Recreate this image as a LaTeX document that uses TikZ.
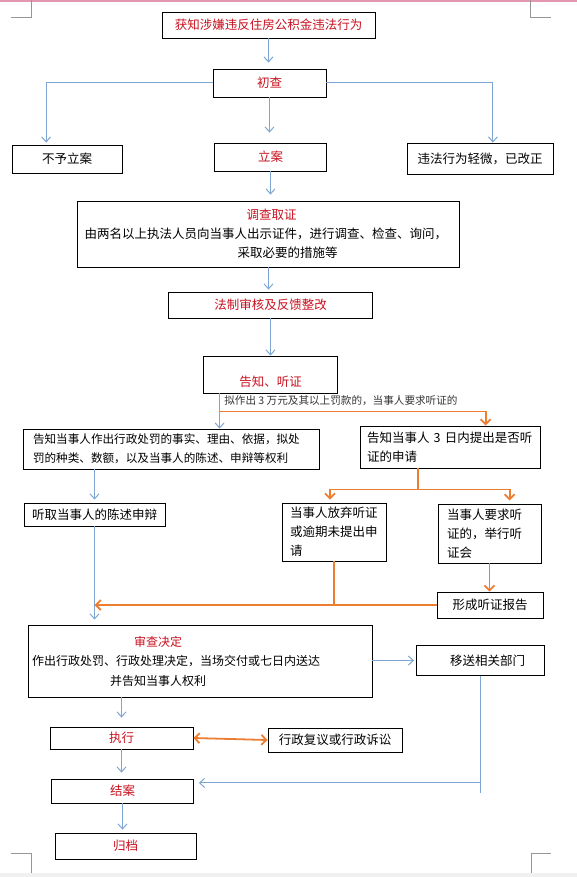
\documentclass[tikz,border=0pt]{standalone}
\usepackage{fontspec}
\setmainfont{Noto Sans CJK SC}
\usetikzlibrary{arrows.meta}
\definecolor{titlered}{RGB}{200,16,30}
\definecolor{flowblue}{RGB}{126,166,208}
\definecolor{hearorange}{RGB}{237,125,49}
\definecolor{markgray}{RGB}{150,150,150}
\definecolor{bandpink}{RGB}{226,150,178}

\begin{document}
\begin{tikzpicture}
	[x=1pt, y=-1pt,
	every node/.style={font=\fontsize{12.5pt}{19pt}\selectfont},
	box/.style={draw=black,line width=0.8pt,inner sep=0pt},
	head/.style={text=titlered},
	flow/.style={draw=flowblue,line width=1pt,-{Straight Barb[length=5pt,width=9pt]}},
	hear/.style={draw=hearorange,line width=1.8pt,-{Straight Barb[length=5pt,width=10pt]}},
	cropmark/.style={draw=markgray,line width=0.8pt}]
	\useasboundingbox (0,0) rectangle (577,877);
	% page edges and corner marks
	\fill[bandpink] (0,0) rectangle (577,2.5);
	\fill[gray!12] (0,873) rectangle (577,877);
	\draw[cropmark] (11,17) -- (31,17) -- (31,0);
	\draw[cropmark] (551,17) -- (530,17) -- (530,0);
	\draw[cropmark] (11,853) -- (31,853) -- (31,873);
	\draw[cropmark] (551,853) -- (531,853) -- (531,873);
	% boxes
	\node[box,head,minimum width=213pt,minimum height=26pt] (evt) at (268.5,25) {获知涉嫌违反住房公积金违法行为};
	\node[box,head,minimum width=113pt,minimum height=28pt] (chucha) at (269.5,83) {初查};
	\node[box,minimum width=110pt,minimum height=28pt] (buyu) at (67,159) {不予立案};
	\node[box,head,minimum width=112pt,minimum height=28pt] (lian) at (270.5,157) {立案};
	\node[box,minimum width=146pt,minimum height=31pt] (qingwei) at (480,158.5) {违法行为轻微，已改正};
	\node[box,text width=368pt,inner xsep=7pt,minimum height=66pt,align=left] (diaocha) at (268.5,234)
		{\hspace*{162pt}{\color{titlered}调查取证}\\由两名以上执法人员向当事人出示证件，进行调查、检查、询问，\\\hspace*{153pt}采取必要的措施等};
	\node[box,head,minimum width=204pt,minimum height=26pt] (fazhi) at (270.5,305) {法制审核及反馈整改};
	\node[box,head,minimum width=134pt,minimum height=37pt] (gaozhi) at (270.5,374.5) {\raisebox{-9pt}[9pt][3pt]{告知、听证}};
	\node[font=\fontsize{10.6pt}{12pt}\selectfont,text=black!80,anchor=west,inner sep=0pt] (cond)
		at ([xshift=21pt,yshift=-7pt]gaozhi.south west) {拟作出 3 万元及其以上罚款的，当事人要求听证的};
	\node[box,text width=276pt,inner xsep=10pt,minimum height=40pt,align=left,font=\fontsize{11.6pt}{19pt}\selectfont] (gzss) at (171,449)
		{告知当事人作出行政处罚的事实、理由、依据，拟处\\罚的种类、数额，以及当事人的陈述、申辩等权利};
	\node[box,text width=166pt,inner xsep=7pt,minimum height=42pt,align=left] (sanri) at (450,447) {告知当事人 3 日内提出是否听\\证的申请};
	\node[box,text width=125pt,inner xsep=8pt,minimum height=23pt,align=left] (tingqu) at (94.5,514.5) {听取当事人的陈述申辩};
	\node[box,text width=88pt,inner xsep=8pt,minimum height=58pt,align=left] (fangqi) at (334,532) {当事人放弃听证\\或逾期未提出申\\请};
	\node[box,text width=85pt,inner xsep=9pt,minimum height=59pt,align=left] (yaoqiu) at (489.5,533.5) {当事人要求听\\证的，举行听\\证会};
	\node[box,minimum width=106pt,minimum height=26pt] (baogao) at (490,605) {形成听证报告};
	\node[box,text width=336pt,inner xsep=4pt,minimum height=72pt,align=left,font=\fontsize{12pt}{19.5pt}\selectfont] (shencha) at (200,661)
		{\hspace*{102pt}{\color{titlered}审查决定}\\作出行政处罚、行政处理决定，当场交付或七日内送达\\\hspace*{78pt}并告知当事人权利};
	\node[box,minimum width=128pt,minimum height=30pt] (yisong) at (480.5,660.5) {\hspace*{14pt}移送相关部门};
	\node[box,head,minimum width=143pt,minimum height=22pt] (zhixing) at (121.5,738) {执行};
	\node[box,minimum width=134pt,minimum height=24pt] (fuyi) at (335,740) {行政复议或行政诉讼};
	\node[box,head,minimum width=142pt,minimum height=24pt] (jiean) at (122.5,791) {结案};
	\node[box,head,minimum width=141pt,minimum height=26pt] (guidang) at (125.5,846) {归档};
	% main flow
	\draw[flow,shorten >=6pt] (evt.south) -- (evt.south |- chucha.north);
	\draw[flow,shorten >=2pt] (chucha.west) -| ([xshift=34.5pt]buyu.north west);
	\draw[flow] (chucha.east) -| ([xshift=-60.5pt]qingwei.north east);
	\draw[flow,shorten >=10pt] (chucha.south) -- (chucha.south |- lian.north);
	\draw[flow,shorten >=6pt] (lian.south) -- (lian.south |- diaocha.north);
	\draw[flow,shorten >=2pt] (diaocha.south) -- (diaocha.south |- fazhi.north);
	\draw[flow] (fazhi.south) -- (gaozhi.north);
	\coordinate (fork) at ([xshift=16.5pt,yshift=-18pt]gaozhi.south west);
	\draw[flow] ([xshift=16.5pt]gaozhi.south west) -- (fork |- gzss.north);
	\draw[flow,shorten >=3pt] (gzss.south -| tingqu.north) -- (tingqu.north);
	\draw[flow,shorten >=5pt] (tingqu.south) -- (tingqu.south |- shencha.north);
	\draw[flow,shorten >=2pt] (yisong.west -| shencha.east) -- (yisong.west);
	\draw[flow,shorten >=9pt] (zhixing.north |- shencha.south) -- (zhixing.north);
	\draw[flow,shorten >=6pt] (zhixing.south) -- (zhixing.south |- jiean.north);
	\draw[flow,shorten >=3pt] (jiean.south) -- (jiean.south |- guidang.north);
	\coordinate (yend) at ([yshift=-117pt]yisong.south);
	\coordinate (back) at ([yshift=-107pt]yisong.south);
	\draw[flowblue,line width=1pt] (yisong.south) -- (yend);
	\draw[flow,shorten >=5pt] (back) -- (back -| jiean.east);
	% hearing branch
	\draw[hear] (fork) -| ([xshift=126pt]sanri.north west);
	\coordinate (split) at ([xshift=58pt,yshift=-21pt]sanri.south west);
	\draw[hearorange,line width=1.8pt] ([xshift=58pt]sanri.south west) -- (split);
	\draw[hear,shorten >=3pt] (split) -| ([xshift=-4pt]fangqi.north);
	\draw[hear,shorten >=3pt] (split) -| ([xshift=72pt]yaoqiu.north west);
	\draw[hear] (yaoqiu.south) -- (yaoqiu.south |- baogao.north);
	\draw[hearorange,line width=1.8pt] (fangqi.south) -- (fangqi.south |- baogao.west);
	\draw[hear] (baogao.west) -- (baogao.west -| tingqu.south);
	\draw[hear,{Straight Barb[length=5pt,width=10pt]}-{Straight Barb[length=5pt,width=10pt]}] (zhixing.east) -- (fuyi.west);
\end{tikzpicture}
\end{document}
